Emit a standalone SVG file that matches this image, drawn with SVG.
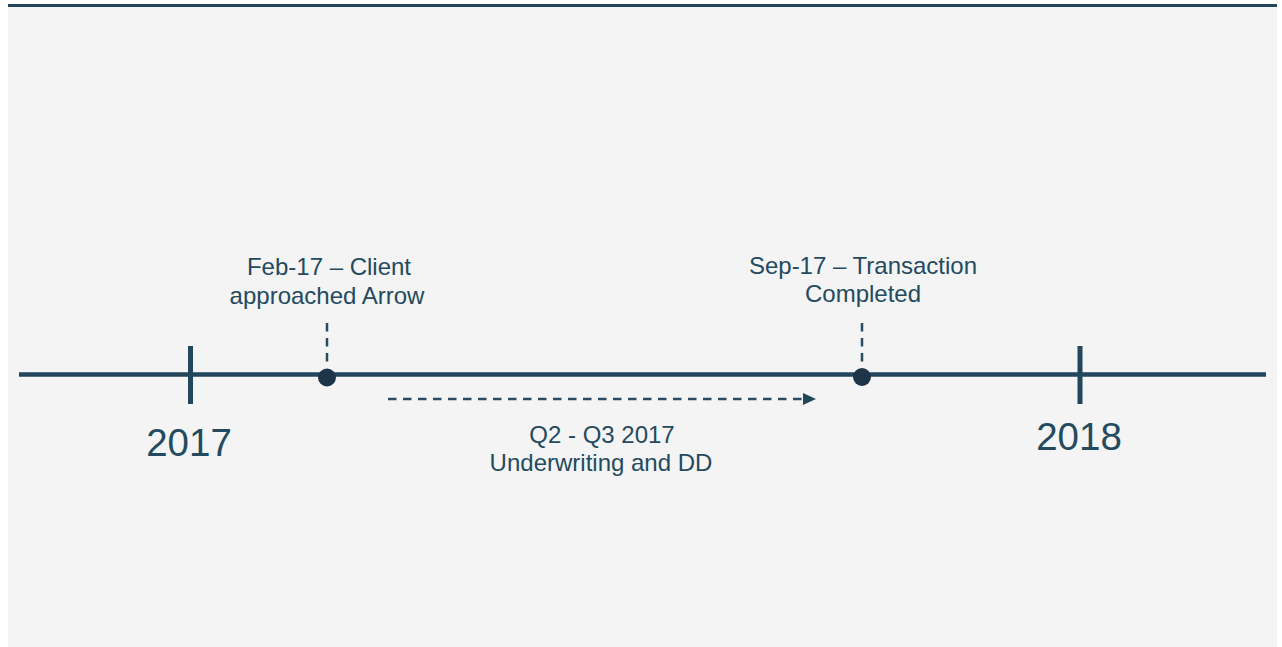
<svg xmlns="http://www.w3.org/2000/svg" width="1282" height="647" viewBox="0 0 1282 647">
<defs>
<style>
.lbl{font-family:"Liberation Sans",Arial,sans-serif;font-size:24px;fill:#244a5f;text-anchor:middle}
.yr{font-family:"Liberation Sans",Arial,sans-serif;font-size:38.5px;fill:#244a5f;text-anchor:middle}
.axis{stroke:#22475c;stroke-width:4.5;fill:none}
.tick{stroke:#22475c;stroke-width:5;fill:none}
.dash{stroke:#2a4c62;stroke-width:2.5;stroke-dasharray:8.5,6.5;fill:none}
.dot{fill:#1e3549}
</style>
<marker id="ah" markerWidth="14" markerHeight="12" refX="0" refY="6" orient="auto" markerUnits="userSpaceOnUse">
<path d="M0,0 L13,6 L0,12 Z" fill="#22475c"/>
</marker>
</defs>
<rect x="0" y="0" width="1282" height="647" fill="#ffffff"/>
<rect x="8" y="4" width="1269" height="643" fill="#f3f4f3"/>
<rect x="8" y="4" width="1269" height="3" fill="#22475c"/>
<g id="connectors">
<line class="axis" x1="19" y1="374.5" x2="1266" y2="374.5"/>
<line class="dash" x1="327" y1="323" x2="327" y2="366"/>
<line class="dash" x1="862" y1="323" x2="862" y2="366"/>
<line class="dash" x1="388" y1="399" x2="803" y2="399" marker-end="url(#ah)"/>
</g>
<g id="tick-2017">
<line class="tick" x1="190.5" y1="346" x2="190.5" y2="404"/>
<text class="yr" x="189" y="456">2017</text>
</g>
<g id="tick-2018">
<line class="tick" x1="1080" y1="346" x2="1080" y2="404"/>
<text class="yr" x="1079" y="450">2018</text>
</g>
<g id="event-feb17">
<circle class="dot" cx="327" cy="377.5" r="9"/>
<text class="lbl" x="329" y="275">Feb-17 – Client</text>
<text class="lbl" x="327" y="304">approached Arrow</text>
</g>
<g id="event-sep17">
<circle class="dot" cx="862" cy="377" r="9"/>
<text class="lbl" x="863" y="274">Sep-17 – Transaction</text>
<text class="lbl" x="863" y="302">Completed</text>
</g>
<g id="period-q2q3">
<text class="lbl" x="602" y="443">Q2 - Q3 2017</text>
<text class="lbl" x="601" y="471">Underwriting and DD</text>
</g>
</svg>
